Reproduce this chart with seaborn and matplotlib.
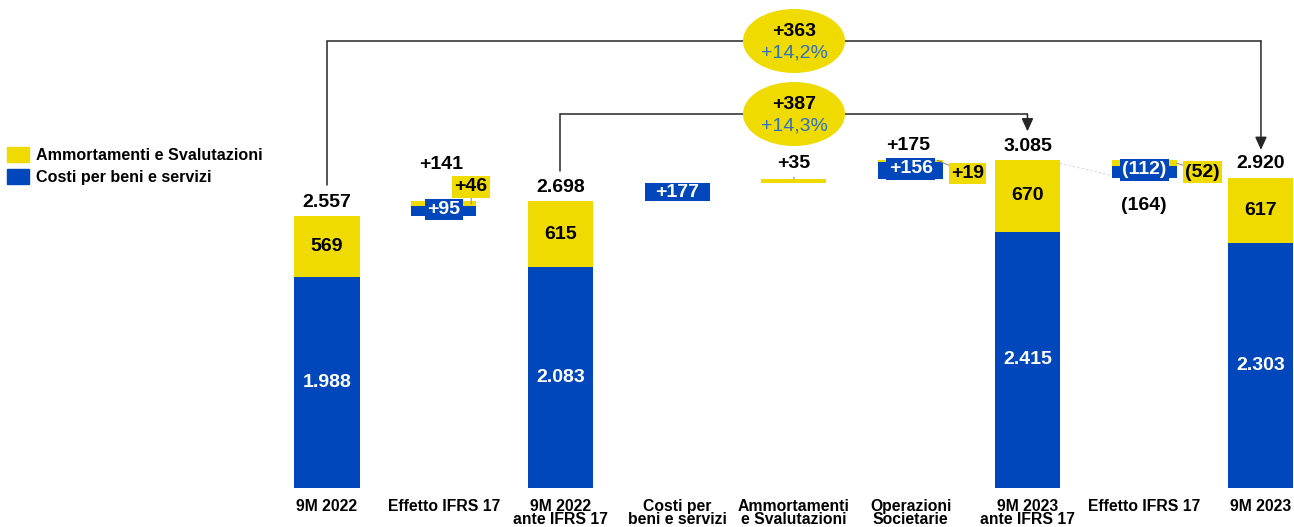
import numpy as np
import pandas as pd
import matplotlib
matplotlib.use("Agg")
import matplotlib.pyplot as plt
from matplotlib.patches import Ellipse, Patch
import seaborn as sns

# ---- data -------------------------------------------------------------
categories = ["9M 2022", "Effetto IFRS 17", "9M 2022\nante IFRS 17", "Costi per\nbeni e servizi",
              "Ammortamenti\ne Svalutazioni", "Operazioni\nSocietarie", "9M 2023\nante IFRS 17",
              "Effetto IFRS 17", "9M 2023"]
kinds = ["total", "delta", "total", "delta", "delta", "delta", "total", "delta", "total"]
costi = [1988, 95, 2083, 177, 0, 156, 2415, -112, 2303]
ammortamenti = [569, 46, 615, 0, 35, 19, 670, -52, 617]
totali = [2557, 141, 2698, 177, 35, 175, 3085, -164, 2920]
series_names = ["Ammortamenti e Svalutazioni", "Costi per beni e servizi"]
# comparisons drawn as brackets: (from column, to column)
confronti = [(0, 8), (2, 6)]

# ---- style ------------------------------------------------------------
YELLOW = "#EFDB00"
BLUE = "#0047BB"
PCT_BLUE = "#2F6FC4"
W = 0.557

sns.set_theme(style="white")
plt.rcParams["font.family"] = ["Liberation Sans", "DejaVu Sans"]
plt.rcParams["text.color"] = "black"

FIG_W, FIG_H = 1294, 527
XLIM = (-2.801, 8.283)
YLIM = (-367, 4595)
UNIT = (YLIM[1] - YLIM[0]) / FIG_H      # data units per pixel (vertical)
XUNIT = (XLIM[1] - XLIM[0]) / FIG_W     # data units per pixel (horizontal)


def Y(p):
    """vertical position measured in pixels from the top edge"""
    return YLIM[1] - p * UNIT


def fmt(v, sign=False):
    s = f"{abs(v):,}".replace(",", ".")
    if v < 0:
        return f"({s})"
    return ("+" if sign else "") + s


fig = plt.figure(figsize=(FIG_W / 100, FIG_H / 100), dpi=100)
ax = fig.add_axes([0, 0, 1, 1])

# ---- total columns (seaborn) -----------------------------------------
pos = list(range(len(categories)))
df = pd.DataFrame({
    "pos": pos,
    "totale": [c + a if k == "total" else np.nan for c, a, k in zip(costi, ammortamenti, kinds)],
    "costi": [c if k == "total" else np.nan for c, k in zip(costi, kinds)],
})
sns.barplot(data=df, x="pos", y="totale", order=pos, color=YELLOW, saturation=1,
            width=W, errorbar=None, linewidth=0, ax=ax)
sns.barplot(data=df, x="pos", y="costi", order=pos, color=BLUE, saturation=1,
            width=W, errorbar=None, linewidth=0, ax=ax)

bold = dict(fontweight="bold", fontsize=14)

# ---- floating columns --------------------------------------------------
running = 0
tops = {}
for i, k in enumerate(kinds):
    if k == "total":
        running = totali[i]
        top = costi[i] + ammortamenti[i]
        tops[i] = top
        ax.text(i, top + 14 * UNIT, fmt(totali[i]), ha="center", va="center", color="black", **bold)
        ax.text(i, top - ammortamenti[i] / 2, fmt(ammortamenti[i]), ha="center", va="center",
                color="black", **bold)
        ax.text(i, costi[i] / 2, fmt(costi[i]), ha="center", va="center", color="white", **bold)
        continue

    lo = running + min(totali[i], 0)
    hb, hy = abs(costi[i]), abs(ammortamenti[i])
    hi = lo + hb + hy
    if hb:
        ax.bar(i, hb, bottom=lo, width=W, color=BLUE, linewidth=0)
    if hy:
        ax.bar(i, hy, bottom=lo + hb, width=W, color=YELLOW, linewidth=0)
    running += totali[i]

    both = hb and hy
    if hb:
        box = dict(boxstyle="square,pad=0.12", fc=BLUE, ec="none") if both else None
        ax.text(i, lo + hb / 2 + (2 * UNIT if both else 0), fmt(costi[i], sign=True),
                ha="center", va="center", color="white", bbox=box, **bold)
    if both:
        ybox = dict(boxstyle="square,pad=0.12", fc=YELLOW, ec="none")
        leader = dict(arrowstyle="-", color="#8c8c8c", lw=0.8, shrinkA=0, shrinkB=0)
        if totali[i] > 0 and i == 1:
            ax.annotate(fmt(ammortamenti[i], sign=True), xy=(i + 0.235, hi - hy / 2),
                        xytext=(0, 17), textcoords="offset pixels", ha="center", va="center",
                        color="black", bbox=ybox, arrowprops=leader, **bold)
        elif totali[i] > 0:
            ax.annotate(fmt(ammortamenti[i], sign=True), xy=(i + 0.23, hi),
                        xytext=(30, -13), textcoords="offset pixels", ha="center", va="center",
                        color="black", bbox=ybox, arrowprops=leader, **bold)
        else:
            ax.annotate(fmt(ammortamenti[i]), xy=(i + W / 2, hi - hy / 2),
                        xytext=(26, -9), textcoords="offset pixels", ha="center", va="center",
                        color="black", bbox=ybox, arrowprops=leader, **bold)
        if totali[i] > 0:
            ax.text(i - 0.02, hi + (37 if i == 1 else 15) * UNIT, fmt(totali[i], sign=True),
                    ha="center", va="center", color="black", **bold)
        else:
            ax.text(i, lo - 28 * UNIT, fmt(totali[i]), ha="center", va="center", color="black", **bold)
    elif hy:
        ax.annotate(fmt(ammortamenti[i], sign=True), xy=(i, hi), xytext=(0, 15),
                    textcoords="offset pixels", ha="center", va="center", color="black",
                    arrowprops=dict(arrowstyle="-", color="#8c8c8c", lw=0.8, shrinkA=1, shrinkB=0),
                    **bold)

# faint connector between the 2023 column and the following IFRS 17 step
ax.plot([6 + W / 2, 7 - W / 2], [tops[6] - 3 * UNIT, tops[6] - 15 * UNIT],
        color="#dadada", lw=0.8, ls=(0, (2, 2)), zorder=1)

# ---- comparison brackets ----------------------------------------------
levels = [Y(41), Y(114)]
starts = [31, 30]
ends = [28, 29]
for (a, b), lev, s, e in zip(confronti, levels, starts, ends):
    ya = tops[a] + s * UNIT
    yb = tops[b] + e * UNIT
    ax.plot([a, a, b], [ya, lev, lev], color="#262626", lw=1.1, zorder=3, solid_joinstyle="miter")
    ax.annotate("", xy=(b, yb), xytext=(b, lev),
                arrowprops=dict(arrowstyle="-|>,head_length=0.55,head_width=0.25", color="#262626",
                                lw=1.1, shrinkA=0, shrinkB=0, mutation_scale=14), zorder=3)
    diff = totali[b] - totali[a]
    pct = diff / totali[a] * 100
    cx = (a + b) / 2
    ax.add_patch(Ellipse((cx, lev), width=102 * XUNIT, height=64 * UNIT, fc=YELLOW, ec="none", zorder=4))
    ax.text(cx, lev + 9.5 * UNIT, fmt(diff, sign=True), ha="center", va="center", color="black",
            zorder=5, **bold)
    ax.text(cx, lev - 12 * UNIT, f"+{pct:.1f}%".replace(".", ","), ha="center", va="center",
            color=PCT_BLUE, fontsize=14, zorder=5)

# ---- category labels ---------------------------------------------------
for i, lab in enumerate(categories):
    for j, line in enumerate(lab.split("\n")):
        ax.text(i, Y(510.5 + 14 * j), line, ha="center", va="baseline", fontsize=11.3,
                fontweight="bold", color="black")

# ---- legend ------------------------------------------------------------
handles = [Patch(color=YELLOW), Patch(color=BLUE)]
fig.legend(handles, series_names, loc="upper left", bbox_to_anchor=(7 / FIG_W, 1 - 147 / FIG_H),
           frameon=False, prop=dict(weight="bold", size=11.6), handlelength=1.37, handleheight=1.05,
           handletextpad=0.45, labelspacing=0.35, borderpad=0, borderaxespad=0, labelcolor="black")

ax.set_xlim(*XLIM)
ax.set_ylim(*YLIM)
ax.axis("off")
fig.savefig("out.png", dpi=100)
